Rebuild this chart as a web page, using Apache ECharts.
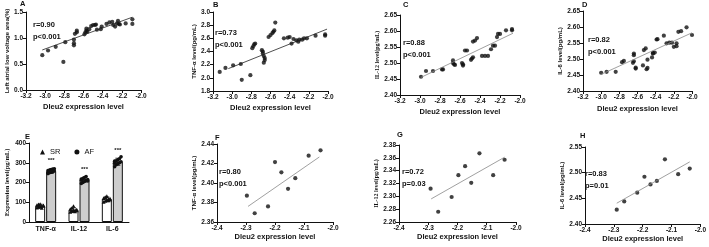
<!DOCTYPE html>
<html>
<head>
<meta charset="utf-8">
<script src="https://cdn.jsdelivr.net/npm/echarts@6/dist/echarts.min.js"></script>
<style>
html,body{margin:0;padding:0;background:#fff}
#c{width:709px;height:247px}
</style>
</head>
<body>
<div id="c"></div>
<script>
// ---- data ----
var ptsA = [[-3.03,0.67],[-2.97,0.76],[-2.89,0.83],[-2.81,0.54],[-2.79,0.92],
  [-2.70,0.86],[-2.70,0.90],[-2.70,0.97],[-2.69,1.08],[-2.67,1.14],[-2.67,1.11],
  [-2.59,1.07],[-2.58,1.11],[-2.57,1.14],[-2.57,1.18],[-2.56,1.12],[-2.54,1.17],
  [-2.52,1.23],[-2.50,1.25],[-2.48,1.25],[-2.47,1.26],[-2.46,1.16],[-2.42,1.17],
  [-2.41,1.22],[-2.36,1.27],[-2.33,1.30],[-2.30,1.31],[-2.29,1.25],[-2.27,1.22],
  [-2.25,1.28],[-2.24,1.33],[-2.23,1.27],[-2.22,1.26],[-2.16,1.28],[-2.09,1.36],[-2.09,1.27]];
var fitA = [[-3.03,0.77],[-2.09,1.40]];

var ptsB = [[-3.13,2.09],[-3.07,2.15],[-2.99,2.19],[-2.91,2.21],[-2.90,1.97],[-2.81,2.04],
  [-2.79,2.45],[-2.78,2.48],[-2.77,2.51],[-2.76,2.52],
  [-2.69,2.42],[-2.68,2.40],[-2.68,2.37],[-2.67,2.33],[-2.66,2.30],[-2.66,2.27],[-2.67,2.23],
  [-2.62,2.62],[-2.60,2.65],[-2.58,2.68],[-2.57,2.70],[-2.56,2.72],[-2.55,2.84],
  [-2.46,2.60],[-2.42,2.61],[-2.40,2.62],[-2.38,2.52],[-2.36,2.59],[-2.33,2.57],[-2.31,2.55],
  [-2.30,2.58],[-2.27,2.58],[-2.25,2.60],[-2.22,2.60],[-2.13,2.64],[-2.03,2.64],[-2.03,2.66]];
var fitB = [[-3.04,2.14],[-2.01,2.74]];

var ptsC = [[-2.99,2.457],[-2.94,2.475],[-2.87,2.475],[-2.78,2.48],[-2.77,2.48],[-2.67,2.508],
  [-2.67,2.50],[-2.66,2.496],[-2.65,2.494],[-2.58,2.50],[-2.57,2.496],[-2.57,2.492],[-2.55,2.539],
  [-2.53,2.539],[-2.49,2.51],[-2.48,2.514],[-2.47,2.518],[-2.47,2.567],[-2.45,2.57],[-2.43,2.578],
  [-2.38,2.522],[-2.35,2.522],[-2.32,2.522],[-2.29,2.543],[-2.27,2.554],[-2.25,2.554],[-2.23,2.581],
  [-2.22,2.591],[-2.20,2.591],[-2.14,2.602],[-2.08,2.606],[-2.08,2.602]];
var fitC = [[-2.99,2.455],[-2.07,2.593]];

var ptsD = [[-3.00,2.457],[-2.94,2.46],[-2.84,2.46],[-2.77,2.49],[-2.75,2.494],[-2.65,2.488],
  [-2.64,2.493],[-2.64,2.512],[-2.64,2.517],[-2.62,2.473],[-2.62,2.47],[-2.54,2.48],[-2.53,2.528],
  [-2.51,2.533],[-2.50,2.468],[-2.49,2.472],[-2.49,2.498],[-2.44,2.505],[-2.43,2.517],[-2.43,2.519],
  [-2.41,2.52],[-2.39,2.561],[-2.38,2.562],[-2.31,2.573],[-2.28,2.549],[-2.25,2.551],[-2.22,2.551],
  [-2.20,2.538],[-2.17,2.54],[-2.17,2.549],[-2.15,2.585],[-2.12,2.587],[-2.06,2.599],[-2.00,2.575]];
var fitD = [[-3.00,2.452],[-2.00,2.582]];

var ptsF = [[-2.297,2.387],[-2.27,2.369],[-2.224,2.376],[-2.20,2.4215],[-2.178,2.411],
  [-2.155,2.394],[-2.13,2.405],[-2.084,2.428],[-2.043,2.4335]];
var fitF = [[-2.293,2.376],[-2.047,2.4267]];

var ptsG = [[-2.292,2.312],[-2.266,2.276],[-2.22,2.299],[-2.197,2.333],[-2.174,2.347],
  [-2.153,2.321],[-2.125,2.367],[-2.078,2.333],[-2.039,2.357]];
var fitG = [[-2.29,2.296],[-2.039,2.361]];

var ptsH = [[-2.29,2.428],[-2.264,2.444],[-2.219,2.461],[-2.194,2.492],[-2.173,2.477],
  [-2.151,2.484],[-2.123,2.526],[-2.077,2.497],[-2.037,2.508]];
var fitH = [[-2.29,2.4405],[-2.037,2.521]];

// panel E
var cats = ['TNF-α', 'IL-12', 'IL-6'];
var srMean = [80, 60, 115];
var srSd = [10, 12, 12];
var afMean = [258, 215, 305];
var afSd = [12, 12, 18];
var srPts = [[72,75,78,80,82,85,88,90,70,83],
             [50,55,58,60,62,65,70,80,52,57],
             [100,105,110,115,118,120,125,130,108,112]];
var afPts = [[245,250,252,255,258,260,262,265,268,270,248,256],
             [195,200,205,210,215,218,220,225,230,208,212],
             [280,290,295,300,305,308,310,315,320,330,298]];

var statTexts = {A:['r=0.90','p<0.001'], B:['r=0.73','p<0.001'], C:['r=0.88','p<0.001'],
  D:['r=0.82','p<0.001'], F:['r=0.80','p<0.001'], G:['r=0.72','p=0.03'], H:['r=0.83','p=0.01']};

// ---- layout ----
var sans = 'Liberation Sans, Arial, sans-serif';
var serif = 'Liberation Serif, Times New Roman, serif';
var ink = '#111';

var panels = [
  {k:'A', grid:{left:26,top:12,width:115,height:78}, pts:ptsA, fit:fitA, x:[-3.2,-2.0,0.2], y:[0,1.5,0.5,1],
   yName:'Left atrial low voltage area(%)', yFont:sans, yGap:14, xGap:13, line:'#222', letter:[23,4], stat:[33,25]},
  {k:'B', grid:{left:213,top:12,width:115,height:79}, pts:ptsB, fit:fitB, x:[-3.2,-2.0,0.2], y:[1.8,3.0,0.2,1],
   yName:'TNF-α level(pg/mL)', yFont:sans, yGap:14, xGap:13, line:'#222', letter:[216,5], stat:[215,33]},
  {k:'C', grid:{left:400,top:15,width:120,height:80}, pts:ptsC, fit:fitC, x:[-3.2,-2.0,0.2], y:[2.40,2.65,0.05,2],
   yName:'IL-12 level(pg/mL)', yFont:serif, yGap:18, xGap:13, line:'#888', letter:[406,5], stat:[403,43]},
  {k:'D', grid:{left:583,top:11,width:109,height:80}, pts:ptsD, fit:fitD, x:[-3.2,-2.0,0.2], y:[2.40,2.65,0.05,2],
   yName:'IL-6 level(pg/mL)', yFont:sans, yGap:18, xGap:14, line:'#888', letter:[585,5], stat:[588,40]},
  {k:'F', grid:{left:217,top:144,width:116,height:78}, pts:ptsF, fit:fitF, x:[-2.4,-2.0,0.1], y:[2.36,2.44,0.02,2],
   yName:'TNF-α level(pg/mL)', yFont:sans, yGap:17, xGap:10, line:'#888', letter:[218,138], stat:[219,172]},
  {k:'G', grid:{left:399,top:145,width:117,height:77}, pts:ptsG, fit:fitG, x:[-2.4,-2.0,0.1], y:[2.26,2.38,0.02,2],
   yName:'IL-12 level(pg/mL)', yFont:serif, yGap:17, xGap:10, line:'#888', letter:[400,135], stat:[402,172]},
  {k:'H', grid:{left:585,top:147,width:117,height:77}, pts:ptsH, fit:fitH, x:[-2.4,-2.0,0.1], y:[2.40,2.55,0.05,2],
   yName:'IL-6 level(pg/mL)', yFont:sans, yGap:17, xGap:10, line:'#888', letter:[583,136], stat:[585,174]}
];
var gridE = {left:29, top:143, width:100, height:79};

function xAx(gi, p) {
  return {
    type:'value', gridIndex:gi, min:p.x[0], max:p.x[1], interval:p.x[2],
    name:'Dleu2 expression level', nameLocation:'middle', nameGap:p.xGap,
    nameTextStyle:{fontSize:7.5, fontWeight:'bold', color:ink, fontFamily:sans},
    axisLine:{onZero:false, lineStyle:{color:ink, width:1}},
    axisTick:{length:3, lineStyle:{color:ink}},
    axisLabel:{fontSize:6.5, fontWeight:'bold', color:ink, margin:3, fontFamily:sans,
      formatter:function(v){ return v.toFixed(1); }},
    splitLine:{show:false}
  };
}
function yAx(gi, p) {
  return {
    type:'value', gridIndex:gi, min:p.y[0], max:p.y[1], interval:p.y[2],
    name:p.yName, nameLocation:'middle', nameRotate:90, nameGap:p.yGap,
    nameTextStyle:{fontSize:6, fontWeight:'bold', color:ink, fontFamily:p.yFont},
    axisLine:{show:true, onZero:false, lineStyle:{color:ink, width:1}},
    axisTick:{show:true, length:3, lineStyle:{color:ink}},
    axisLabel:{fontSize:6.5, fontWeight:'bold', color:ink, margin:3, fontFamily:sans,
      formatter:function(v){ return v.toFixed(p.y[3]); }},
    splitLine:{show:false}
  };
}

var grids = [], xAxes = [], yAxes = [], series = [], graphics = [];

// scatter panels: A-D use grids 0-3, E uses grid 4, F-H use grids 5-7
panels.forEach(function (p, i) {
  var gi = i < 4 ? i : i + 1;
  grids.push(p.grid);
  if (i === 3) grids.push(gridE);
  var xi = xAxes.length, yi = yAxes.length;
  xAxes.push(xAx(gi, p));
  yAxes.push(yAx(gi, p));
  if (i === 3) {
    // panel E axes
    xAxes.push({
      type:'category', gridIndex:4, data:cats,
      axisLine:{lineStyle:{color:ink, width:1}}, axisTick:{show:false},
      axisLabel:{fontSize:7, fontWeight:'bold', color:ink, margin:4, fontFamily:sans}
    });
    yAxes.push({
      type:'value', gridIndex:4, min:0, max:400, interval:100,
      name:'Expression level(pg/mL)', nameLocation:'middle', nameRotate:90, nameGap:18,
      nameTextStyle:{fontSize:6.5, fontWeight:'bold', color:ink, fontFamily:serif},
      axisLine:{show:true, lineStyle:{color:ink, width:1}},
      axisTick:{show:true, length:3, lineStyle:{color:ink}},
      axisLabel:{fontSize:6.5, fontWeight:'bold', color:ink, margin:3, fontFamily:sans},
      splitLine:{show:false}
    });
  }
  series.push({type:'scatter', xAxisIndex:xi, yAxisIndex:yi, data:p.pts, symbolSize:4.2,
    itemStyle:{color:ink}, silent:true});
  series.push({type:'line', xAxisIndex:xi, yAxisIndex:yi, data:p.fit, symbol:'none',
    lineStyle:{color:p.line, width:0.8}, silent:true});

  graphics.push({type:'text', left:p.letter[0]-3, top:p.letter[1]-4,
    style:{text:p.k, font:'bold 7.5px ' + sans, fill:ink}});
  var st = statTexts[p.k];
  graphics.push({type:'text', left:p.stat[0], top:p.stat[1]-4,
    style:{text:st[0], font:'bold 7.5px ' + sans, fill:ink}});
  graphics.push({type:'text', left:p.stat[0], top:p.stat[1]+8,
    style:{text:st[1], font:'bold 7.5px ' + sans, fill:ink}});
});
graphics.push({type:'text', left:25, top:133, style:{text:'E', font:'bold 7.5px ' + sans, fill:ink}});

// panel E series
var half = 5.5;
series.push({type:'bar', name:'SR bar', xAxisIndex:4, yAxisIndex:4, data:srMean, barWidth:10, barGap:'10%',
  itemStyle:{color:'#fff', borderColor:ink, borderWidth:1}, silent:true});
series.push({type:'bar', name:'AF bar', xAxisIndex:4, yAxisIndex:4, data:afMean, barWidth:10, barGap:'10%',
  itemStyle:{color:'#cdcdcd', borderColor:ink, borderWidth:1}, silent:true});

function errRender(side, stars) {
  return function (params, api) {
    var i = api.value(0), m = api.value(1), s = api.value(2);
    var t = api.coord([i, m + s]), b = api.coord([i, m - s]);
    var x = t[0] + side, w = 2.5;
    var kids = [
      {type:'line', shape:{x1:x, y1:t[1], x2:x, y2:b[1]}, style:{stroke:ink, lineWidth:0.8}},
      {type:'line', shape:{x1:x-w, y1:t[1], x2:x+w, y2:t[1]}, style:{stroke:ink, lineWidth:0.8}},
      {type:'line', shape:{x1:x-w, y1:b[1], x2:x+w, y2:b[1]}, style:{stroke:ink, lineWidth:0.8}}
    ];
    if (stars) kids.push({type:'text', x:x, y:t[1]-8,
      style:{text:'***', font:'bold 6px ' + sans, fill:ink, align:'center', verticalAlign:'middle'}});
    return {type:'group', children:kids};
  };
}
function dotRender(side, tri) {
  return function (params, api) {
    var c = api.coord([api.value(0), api.value(1)]);
    var j = api.value(2);
    var x = c[0] + side + ((j % 5) - 2) * 1.6, y = c[1];
    if (tri) return {type:'polygon', shape:{points:[[x, y-2], [x-2, y+1.6], [x+2, y+1.6]]}, style:{fill:ink}};
    return {type:'circle', shape:{cx:x, cy:y, r:1.8}, style:{fill:ink}};
  };
}
var srDots = [], afDots = [], srErr = [], afErr = [];
cats.forEach(function (c, i) {
  srPts[i].forEach(function (v, j) { srDots.push([i, v, j]); });
  afPts[i].forEach(function (v, j) { afDots.push([i, v, j]); });
  srErr.push([i, srMean[i], srSd[i]]);
  afErr.push([i, afMean[i], afSd[i]]);
});
series.push({type:'custom', name:'SR', xAxisIndex:4, yAxisIndex:4, data:srDots, renderItem:dotRender(-half, true),
  itemStyle:{color:ink}, silent:true, z:5});
series.push({type:'custom', name:'AF', xAxisIndex:4, yAxisIndex:4, data:afDots, renderItem:dotRender(half, false),
  itemStyle:{color:ink}, silent:true, z:5});
series.push({type:'custom', xAxisIndex:4, yAxisIndex:4, data:srErr, renderItem:errRender(-half, false), silent:true, z:6});
series.push({type:'custom', xAxisIndex:4, yAxisIndex:4, data:afErr, renderItem:errRender(half, true), silent:true, z:6});

var option = {
  animation:false,
  backgroundColor:'#fff',
  grid:grids,
  xAxis:xAxes,
  yAxis:yAxes,
  legend:{left:35, top:143, itemWidth:5, itemHeight:5, itemGap:14, selectedMode:false,
    textStyle:{fontSize:7.5, color:ink, fontFamily:sans},
    data:[{name:'SR', icon:'triangle'}, {name:'AF', icon:'circle'}]},
  graphic:graphics,
  series:series
};

var chart = echarts.init(document.getElementById('c'));
chart.setOption(option);
</script>
</body>
</html>
